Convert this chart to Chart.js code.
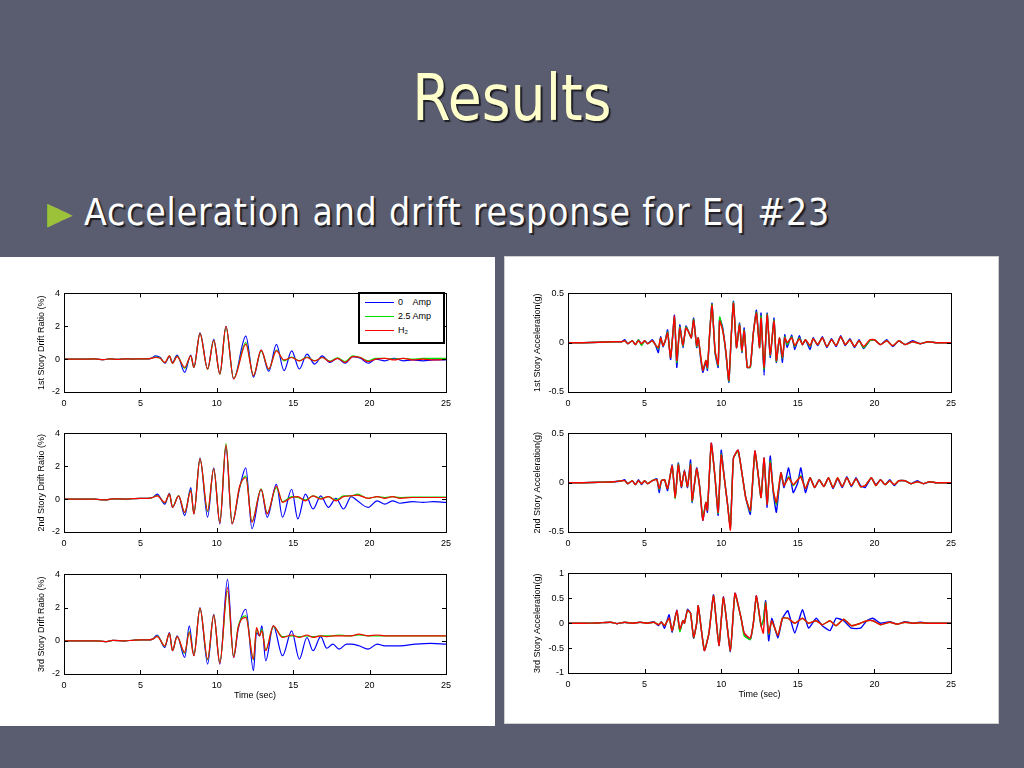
<!DOCTYPE html>
<html>
<head>
<meta charset="utf-8">
<title>Results</title>
<script src="https://cdn.jsdelivr.net/npm/chart.js@4.4.1/dist/chart.umd.min.js"></script>
<style>
  html, body { margin: 0; padding: 0; }
  body {
    width: 1024px; height: 768px; position: relative; overflow: hidden;
    background: #5a5d6f;
    font-family: "DejaVu Sans Condensed", "DejaVu Sans", sans-serif;
  }
  .title {
    position: absolute; left: 0; width: 1024px; top: 62px;
    text-align: center; font-size: 64px; line-height: 72px;
    color: #ffffcc; text-shadow: 2px 2px 1px #1e1f26;
  }
  .title span { display: inline-block; transform: scaleX(0.96); }
  .bullet {
    position: absolute; left: 84px; top: 191px; white-space: nowrap;
    font-size: 37px; line-height: 44px; color: #ffffff; letter-spacing: 0.85px;
    text-shadow: 2px 2px 1px #1e1f26;
  }
  .bullet .mark {
    position: absolute; left: -37px; top: -1px; font-size: 31px; line-height: 44px;
    color: #9cc23a; letter-spacing: 0; text-shadow: none;
    transform-origin: 0 23.5px; transform: scale(1.19, 1.53);
  }
  .panel { position: absolute; background: #ffffff; box-sizing: border-box; }
  canvas { position: absolute; }
  .legend {
    position: absolute; left: 358px; top: 292px; width: 87px; height: 52px;
    box-sizing: border-box; border: 2px solid #000; background: #fff;
    font-family: "Liberation Sans", Arial, sans-serif; font-size: 9px; color: #000;
  }
  .legend .row { position: absolute; left: 5px; height: 14px; line-height: 14px; white-space: pre; }
  .legend .swatch { display: inline-block; width: 29px; height: 1.5px; vertical-align: middle; margin-right: 4px; }
</style>
</head>
<body>
<div class="title"><span>Results</span></div>
<div class="bullet"><span class="mark">&#9658;</span>Acceleration and drift response for Eq #23</div>

<div class="panel" style="left:0px; top:257px; width:495px; height:469px;"></div>
<div class="panel" style="left:504px; top:256px; width:495px; height:468px; border:1px solid #cfcfcf;"></div>

<canvas id="drift1" width="421" height="128" style="left:36px; top:284px;"></canvas>
<canvas id="drift2" width="421" height="128" style="left:36px; top:424px;"></canvas>
<canvas id="drift3" width="421" height="136" style="left:36px; top:565px;"></canvas>
<canvas id="accel1" width="430" height="128" style="left:532px; top:284px;"></canvas>
<canvas id="accel2" width="430" height="128" style="left:532px; top:424px;"></canvas>
<canvas id="accel3" width="430" height="136" style="left:532px; top:564px;"></canvas>
<div class="legend" id="legend"></div>

<script>
// Series names and colours
const seriesLabels = ['0    Amp', '2.5 Amp', 'H\u2082'];
const seriesColors = ['#0000ff', '#00e000', '#ff0000'];

// Tick labels
const timeTicks = [0, 5, 10, 15, 20, 25];
const driftTicks = [-2, 0, 2, 4];
const accelTicks = [-0.5, 0, 0.5];
const accel3Ticks = [-1, -0.5, 0, 0.5, 1];

// 1st story drift ratio (%)
const drift1Time = [
  0, 1, 2, 2.6, 3, 3.5, 4, 4.5, 5, 5.4,
  5.7, 6.0, 6.3, 6.6, 6.9, 7.1, 7.4, 7.9, 8.3, 8.5,
  8.9, 9.4, 9.8, 10.2, 10.6, 11.1, 11.9, 12.4, 12.9, 13.4,
  13.9, 14.4, 14.9, 15.4, 15.9, 16.4, 16.9, 17.4, 17.9, 18.4,
  18.9, 19.4, 19.9, 20.4, 21.0, 21.6, 22.2, 22.8, 23.5, 24.2,
  25];
const drift1Amp0 = [
  0, 0, 0.01, -0.03, 0.02, -0.01, 0.02, 0, 0.02, 0.01,
  0.05, 0.2, 0.1, -0.25, 0.15, -0.2, 0.25, -0.8, 0.25, -0.5,
  1.6, -0.6, 1.2, -0.9, 2.0, -1.2, 1.4, -1.1, 0.55, -0.75,
  0.9, -0.7, 0.5, -0.6, 0.3, -0.3, 0.2, -0.2, 0.05, -0.25,
  0.15, 0.05, -0.25, 0, -0.1, 0.05, -0.1, -0.05, -0.1, -0.05,
  -0.05];
const drift1Amp25 = [
  0, 0, 0.01, -0.03, 0.02, -0.01, 0.02, 0, 0.02, 0.01,
  0.05, 0.12, 0.05, -0.22, 0.2, -0.25, 0.18, -0.55, 0.2, -0.5,
  1.55, -0.62, 1.15, -0.92, 1.95, -1.18, 1.0, -1.0, 0.5, -0.62,
  0.55, -0.1, 0.12, -0.1, 0.12, -0.1, 0.1, -0.12, 0.08, -0.15,
  0.2, 0.1, -0.1, 0.05, 0.05, 0, 0.05, 0, 0.05, 0.05,
  0.05];
const drift1H2 = [
  0, 0, 0.01, -0.03, 0.02, -0.01, 0.02, 0, 0.02, 0.01,
  0.05, 0.1, 0.05, -0.2, 0.2, -0.25, 0.15, -0.5, 0.2, -0.5,
  1.55, -0.6, 1.15, -0.9, 2.0, -1.2, 0.9, -1.0, 0.55, -0.6,
  0.5, -0.05, 0.1, -0.1, 0.1, -0.1, 0.1, -0.15, 0.05, -0.2,
  0.15, 0.1, -0.15, 0, 0.05, -0.05, 0.05, -0.05, 0, -0.05,
  -0.02];

// 2nd story drift ratio (%)
const drift2Time = [
  0, 1, 2, 2.7, 3.2, 4, 4.5, 5, 5.5,
  5.8, 6.1, 6.6, 6.9, 7.1, 7.5, 7.9, 8.3, 8.5, 8.9,
  9.4, 9.8, 10.2, 10.6, 11.0, 11.5, 11.9, 12.3, 12.9, 13.3,
  13.9, 14.3, 14.9, 15.3, 15.8, 16.3, 16.8, 17.3, 17.8, 18.3,
  18.8, 19.2, 19.9, 20.5, 21.0, 21.5, 22.0, 22.8, 23.5, 24.2, 25];
const drift2Amp0 = [
  0, 0, 0, -0.05, 0.02, 0, 0.03, 0.05, 0.05,
  0.1, 0.3, -0.3, 0.35, -0.5, 0.2, -1.0, 0.7, -0.9, 2.5,
  -1.1, 1.9, -1.5, 3.2, -1.5, 0.7, 1.9, -1.8, 0.6, -1.1,
  0.9, -1.1, 0.6, -1.2, 0.3, -0.6, 0.2, -0.5, 0.05, -0.6,
  0.15, -0.1, -0.5, -0.1, -0.3, -0.1, -0.25, -0.15, -0.2, -0.15, -0.2];
const drift2Amp25 = [
  0, 0, 0, -0.05, 0.02, 0, 0.03, 0.05, 0.05,
  0.1, 0.22, -0.22, 0.3, -0.48, 0.22, -0.82, 0.55, -0.88, 2.45,
  -0.75, 1.85, -1.4, 3.4, -1.45, 0.75, 1.4, -1.35, 0.62, -0.85,
  0.7, -0.15, 0.15, 0.1, -0.05, 0.2, 0.05, 0.15, -0.05, 0.2,
  0.2, 0.3, 0.05, 0.15, 0.1, 0.15, 0.1, 0.12, 0.12, 0.12, 0.12];
const drift2H2 = [
  0, 0, 0, -0.05, 0.02, 0, 0.03, 0.05, 0.05,
  0.1, 0.2, -0.2, 0.3, -0.5, 0.2, -0.8, 0.5, -0.9, 2.45,
  -0.7, 1.85, -1.45, 3.3, -1.5, 0.8, 1.3, -1.4, 0.6, -0.9,
  0.8, -0.2, 0.1, 0.15, -0.1, 0.2, 0, 0.15, -0.1, 0.15,
  0.2, 0.25, 0.05, 0.15, 0.05, 0.15, 0.05, 0.1, 0.1, 0.1, 0.1];

// 3rd story drift ratio (%)
const drift3Time = [
  0, 1, 2, 2.7, 3.2, 4, 4.5, 5, 5.5,
  5.8, 6.1, 6.6, 6.9, 7.1, 7.4, 7.9, 8.2, 8.5, 8.9,
  9.4, 9.8, 10.2, 10.7, 11.1, 11.4, 11.9, 12.4, 12.6, 12.8,
  12.95, 13.2, 13.7, 14.3, 14.9, 15.4, 15.9, 16.3, 16.8, 17.2,
  17.6, 18.0, 18.5, 18.8, 19.3, 19.9, 20.5, 21.0, 22.0, 23.0, 24.0, 25];
const drift3Amp0 = [
  0, 0, 0, -0.05, 0.02, 0, 0.03, 0.05, 0.05,
  0.1, 0.35, -0.4, 0.5, -0.6, 0.3, -1.0, 0.9, -0.9, 2.0,
  -1.4, 1.6, -1.4, 3.7, -1.0, 0.7, 1.9, -1.8, 0.5, 0.3,
  0.9, -1.2, 0.9, -0.9, 0.6, -1.1, 0.2, -0.6, 0.25, -0.45,
  -0.2, -0.5, -0.2, -0.2, -0.3, -0.5, -0.2, -0.3, -0.3, -0.2, -0.15, -0.2];
const drift3Amp25 = [
  0, 0, 0, -0.05, 0.02, 0, 0.03, 0.05, 0.05,
  0.1, 0.28, -0.32, 0.45, -0.58, 0.25, -0.75, 0.55, -0.85, 1.95,
  -1.15, 1.55, -1.3, 3.0, -0.95, 0.85, 1.5, -1.15, 0.7, 0.35,
  0.7, -0.55, 0.85, 0.25, 0.3, 0.25, 0.3, 0.25, 0.3, 0.3,
  0.3, 0.35, 0.3, 0.3, 0.35, 0.3, 0.3, 0.3, 0.3, 0.3, 0.3, 0.3];
const drift3H2 = [
  0, 0, 0, -0.05, 0.02, 0, 0.03, 0.05, 0.05,
  0.1, 0.25, -0.3, 0.45, -0.6, 0.25, -0.7, 0.5, -0.9, 1.95,
  -1.1, 1.55, -1.35, 3.2, -1.0, 0.8, 1.4, -1.1, 0.8, 0.3,
  0.6, -0.6, 0.9, 0.2, 0.35, 0.2, 0.35, 0.2, 0.3, 0.25,
  0.3, 0.3, 0.3, 0.3, 0.4, 0.3, 0.35, 0.3, 0.3, 0.3, 0.3, 0.3];

// 1st story acceleration (g)
const accel1Time = [
  0, 1, 2, 3, 3.5, 3.7, 3.9, 4.2, 4.4, 4.6, 4.8, 5.0, 5.2, 5.5, 5.7,
  5.9, 6.05, 6.2, 6.35, 6.5, 6.7, 6.95, 7.1, 7.3, 7.5, 7.7, 7.9, 8.05, 8.2, 8.4,
  8.5, 8.65, 8.8, 9.0, 9.1, 9.25, 9.4, 9.6, 9.8, 9.9, 10.1, 10.3, 10.5, 10.65, 10.8,
  11.0, 11.2, 11.35, 11.5, 11.7, 11.9, 12.1, 12.3, 12.5, 12.6, 12.8, 13.0, 13.2, 13.45, 13.6,
  13.8, 14.0, 14.15, 14.3, 14.6, 14.8, 15.1, 15.3, 15.5, 15.8, 16.0, 16.3, 16.6, 16.9, 17.2,
  17.5, 17.8, 18.1, 18.4, 18.7, 19.0, 19.3, 19.7, 20.0, 20.4, 20.8, 21.2, 21.6, 22.0, 22.5, 23.0, 23.5, 24, 25];
const accel1Amp0 = [
  0, 0, 0.005, 0.01, 0.01, 0.03, -0.01, 0.02, -0.02, 0.03, -0.02, 0.02, -0.01, 0.03, -0.02,
  -0.1, 0.06, -0.04, 0.02, 0.13, -0.17, 0.28, -0.25, 0.18, -0.05, 0.17, 0.1, 0.05, 0.25, -0.05,
  0.05, -0.15, -0.3, -0.2, -0.28, 0.1, 0.4, -0.1, -0.25, 0.25, 0.15, -0.1, -0.4, 0.05, 0.42,
  -0.05, 0.2, -0.1, 0.15, -0.25, -0.25, 0.1, 0.33, -0.05, 0.3, -0.33, 0.3, -0.15, 0.25, -0.2,
  0.05, -0.2, 0.08, -0.05, 0.08, -0.07, 0.07, -0.02, 0.03, -0.07, 0.05, -0.03, 0.06, -0.05, 0.04,
  -0.04, 0.07, -0.03, 0.04, -0.05, 0.03, -0.06, 0.02, 0.03, -0.02, 0.03, -0.04, 0.02, -0.02, 0.02, -0.01, 0.01, 0, 0];
const accel1Amp25 = [
  0, 0, 0.005, 0.01, 0.01, 0.02, -0.01, 0.02, -0.02, 0.03, -0.03, 0.02, -0.01, 0.02, -0.02,
  -0.06, 0.05, -0.03, 0.02, 0.11, -0.15, 0.26, -0.2, 0.16, -0.04, 0.16, 0.1, 0.05, 0.24, -0.04,
  0.05, -0.13, -0.28, -0.18, -0.26, 0.1, 0.39, -0.09, -0.23, 0.26, 0.13, -0.09, -0.39, 0.05, 0.41,
  -0.05, 0.19, -0.09, 0.13, -0.25, -0.25, 0.1, 0.31, -0.05, 0.27, -0.27, 0.29, -0.13, 0.23, -0.19,
  0.05, -0.16, 0.06, -0.02, 0.06, -0.04, 0.05, -0.02, 0.03, -0.04, 0.04, -0.02, 0.05, -0.04, 0.03,
  -0.03, 0.06, -0.02, 0.03, -0.04, 0.02, -0.05, 0.02, 0.03, -0.02, 0.02, -0.03, 0.02, -0.02, 0.01, -0.01, 0.01, 0, 0];
const accel1H2 = [
  0, 0, 0.005, 0.01, 0.01, 0.02, -0.01, 0.02, -0.02, 0.02, -0.01, 0.02, -0.01, 0.02, -0.02,
  -0.05, 0.05, -0.03, 0.02, 0.1, -0.15, 0.27, -0.18, 0.15, -0.03, 0.15, 0.1, 0.05, 0.23, -0.03,
  0.05, -0.12, -0.28, -0.18, -0.25, 0.1, 0.38, -0.08, -0.22, 0.22, 0.12, -0.08, -0.38, 0.05, 0.4,
  -0.05, 0.18, -0.08, 0.12, -0.25, -0.24, 0.1, 0.3, -0.05, 0.25, -0.25, 0.28, -0.12, 0.22, -0.18,
  0.05, -0.15, 0.05, 0, 0.05, -0.03, 0.04, -0.02, 0.03, -0.03, 0.04, -0.02, 0.05, -0.04, 0.03,
  -0.03, 0.06, -0.02, 0.03, -0.04, 0.02, -0.04, 0.03, 0.03, -0.02, 0.02, -0.03, 0.02, -0.02, 0.01, -0.01, 0.01, 0, 0];

// 2nd story acceleration (g)
const accel2Time = [
  0, 1, 2, 3, 3.5, 3.7, 3.9, 4.2, 4.4, 4.6, 4.8, 5.0, 5.2, 5.5, 5.8,
  5.95, 6.1, 6.3, 6.5, 6.8, 7.0, 7.2, 7.4, 7.6, 7.8, 8.0, 8.1, 8.4, 8.6, 8.8,
  9.0, 9.1, 9.35, 9.6, 9.8, 10.0, 10.2, 10.4, 10.6, 10.8, 11.1, 11.4, 11.6, 11.9, 12.2,
  12.4, 12.6, 12.8, 13.0, 13.2, 13.4, 13.6, 13.9, 14.1, 14.4, 14.7, 15.0, 15.2, 15.5, 15.8,
  16.1, 16.4, 16.7, 17.0, 17.3, 17.6, 17.9, 18.2, 18.5, 18.8, 19.1, 19.4, 19.8, 20.1, 20.4,
  20.7, 21.0, 21.3, 21.6, 22.0, 22.4, 22.8, 23.2, 23.6, 24.0, 25];
const accel2Amp0 = [
  0, 0, 0.005, 0.01, 0.02, 0.03, -0.01, 0.02, -0.02, 0.03, -0.02, 0.02, -0.01, 0.02, 0.04,
  -0.1, 0.02, 0.03, -0.08, 0.18, -0.15, 0.2, -0.05, 0.13, -0.05, 0.23, -0.2, 0.15, -0.05, -0.38,
  -0.2, -0.3, 0.4, 0.05, -0.33, 0.33, 0.05, -0.2, -0.45, 0.25, 0.33, 0.05, -0.15, -0.32, 0.32,
  0.1, -0.15, 0.25, -0.25, 0.27, -0.1, -0.3, 0.1, -0.05, 0.15, -0.1, 0, 0.15, -0.1, 0.05,
  -0.05, 0.03, -0.04, 0.05, -0.06, 0.04, -0.05, 0.06, -0.04, 0.05, -0.03, -0.05, 0.05, -0.02, 0.03,
  -0.02, 0.03, -0.03, 0.02, 0.02, -0.01, 0.02, -0.01, 0.01, 0, 0];
const accel2Amp25 = [
  0, 0, 0.005, 0.01, 0.02, 0.02, -0.01, 0.02, -0.02, 0.02, -0.01, 0.02, -0.01, 0.02, 0.03,
  -0.07, 0.02, 0.03, -0.06, 0.17, -0.16, 0.19, -0.04, 0.12, -0.04, 0.19, -0.19, 0.14, -0.05, -0.36,
  -0.2, -0.28, 0.38, 0.05, -0.31, 0.29, 0.05, -0.2, -0.45, 0.25, 0.32, 0.05, -0.15, -0.29, 0.31,
  0.1, -0.15, 0.24, -0.22, 0.22, -0.08, -0.22, 0.1, -0.03, 0.06, -0.03, 0.03, 0.07, -0.06, 0.05,
  -0.05, 0.03, -0.04, 0.05, -0.05, 0.05, -0.04, 0.05, -0.03, 0.04, -0.04, -0.03, 0.05, -0.03, 0.03,
  -0.02, 0.02, -0.02, 0.02, 0.02, -0.01, 0.01, -0.01, 0.01, 0, 0];
const accel2H2 = [
  0, 0, 0.005, 0.01, 0.02, 0.02, -0.01, 0.02, -0.02, 0.02, -0.01, 0.02, -0.01, 0.02, 0.03,
  -0.06, 0.02, 0.03, -0.06, 0.17, -0.15, 0.18, -0.04, 0.12, -0.04, 0.18, -0.18, 0.14, -0.05, -0.38,
  -0.2, -0.28, 0.4, 0.05, -0.3, 0.28, 0.05, -0.2, -0.48, 0.25, 0.33, 0.05, -0.15, -0.28, 0.32,
  0.1, -0.15, 0.25, -0.22, 0.2, -0.08, -0.2, 0.1, -0.03, 0.05, -0.02, 0.03, 0.06, -0.06, 0.05,
  -0.05, 0.03, -0.04, 0.05, -0.05, 0.05, -0.04, 0.05, -0.03, 0.04, -0.04, -0.03, 0.05, -0.03, 0.03,
  -0.02, 0.02, -0.02, 0.02, 0.02, -0.01, 0.01, -0.01, 0.01, 0, 0];

// 3rd story acceleration (g)
const accel3Time = [
  0, 1, 2, 2.8, 3.2, 3.7, 4.2, 4.7, 5.2, 5.6, 5.9, 6.1, 6.3, 6.6, 6.8,
  7.1, 7.3, 7.5, 7.6, 7.8, 8.0, 8.2, 8.4, 8.5, 8.9, 9.2, 9.5, 9.85, 10.15, 10.6,
  10.9, 11.3, 11.5, 11.9, 12.1, 12.3, 12.6, 12.75, 12.9, 13.1, 13.3, 13.7, 14.0, 14.35, 14.8,
  15.3, 15.7, 16.2, 16.6, 17.1, 17.5, 18.0, 18.5, 19.1, 19.5, 19.9, 20.4, 21.0, 21.5, 22.0,
  22.5, 23.0, 23.5, 24.0, 25];
const accel3Amp0 = [
  0, 0, 0.005, 0.02, -0.01, 0.02, 0, 0.02, 0, 0.03, -0.05, 0.03, -0.1, 0.17, -0.18,
  0.26, -0.15, 0.05, 0, 0.28, 0.2, -0.3, 0, 0.35, -0.55, -0.2, 0.57, -0.45, 0.53, -0.57,
  0.6, 0.1, -0.2, -0.33, 0, 0.55, -0.05, 0.05, 0.45, -0.35, 0.1, -0.3, 0.1, 0.25, -0.2,
  0.27, -0.1, 0.1, -0.05, -0.15, 0.1, 0.05, -0.1, -0.1, 0.05, 0.1, 0, 0.03, -0.02, 0.03,
  0, 0.02, 0, 0, 0];
const accel3Amp25 = [
  0, 0, 0.005, 0.02, -0.01, 0.02, 0, 0.02, 0, 0.02, -0.03, 0.02, -0.05, 0.1, -0.15,
  0.24, -0.17, 0.05, 0, 0.26, 0.2, -0.29, 0, 0.34, -0.54, -0.2, 0.55, -0.44, 0.51, -0.55,
  0.58, 0.1, -0.25, -0.33, 0, 0.53, -0.05, 0.05, 0.42, -0.22, 0.05, -0.25, 0.1, 0.1, 0,
  0.1, 0, 0.05, -0.03, 0.05, -0.05, 0.08, -0.05, 0, 0.05, 0.05, -0.03, 0.02, -0.02, 0.02,
  0, 0.01, 0, 0, 0];
const accel3H2 = [
  0, 0, 0.005, 0.02, -0.01, 0.02, 0, 0.02, 0, 0.02, -0.03, 0.02, -0.05, 0.1, -0.15,
  0.25, -0.12, 0.05, 0, 0.26, 0.2, -0.28, 0, 0.35, -0.55, -0.2, 0.55, -0.45, 0.52, -0.55,
  0.6, 0.1, -0.2, -0.3, 0, 0.55, -0.05, -0.2, 0.42, -0.2, 0.05, -0.25, 0.1, 0.1, 0,
  0.1, 0, 0.05, -0.03, 0.05, -0.05, 0.08, -0.05, 0, 0.05, 0.05, -0.03, 0.02, -0.02, 0.02,
  0, 0.01, 0, 0, 0];

// Draws the closed MATLAB-style box with inward ticks on all four sides
const matlabBox = {
  id: 'matlabBox',
  afterDraw(chart) {
    const { ctx, chartArea: a, scales: { x, y } } = chart;
    ctx.save();
    ctx.strokeStyle = '#000';
    ctx.lineWidth = 1;
    ctx.strokeRect(Math.round(a.left) + 0.5, Math.round(a.top) + 0.5,
      Math.round(a.right - a.left), Math.round(a.bottom - a.top));
    ctx.beginPath();
    x.ticks.forEach(t => {
      const px = Math.round(x.getPixelForValue(t.value)) + 0.5;
      ctx.moveTo(px, a.bottom); ctx.lineTo(px, a.bottom - 4);
      ctx.moveTo(px, a.top); ctx.lineTo(px, a.top + 4);
    });
    y.ticks.forEach(t => {
      const py = Math.round(y.getPixelForValue(t.value)) + 0.5;
      ctx.moveTo(a.left, py); ctx.lineTo(a.left + 4, py);
      ctx.moveTo(a.right, py); ctx.lineTo(a.right - 4, py);
    });
    ctx.stroke();
    ctx.restore();
  }
};

const tickFont = { family: '"Liberation Sans", Arial, sans-serif', size: 9 };

function makeChart(id, time, series, yTicks, yTitle, yAxisWidth, xAxisHeight, showXTitle, smooth) {
  const datasets = series.map((values, i) => ({
    label: seriesLabels[i],
    data: values.map((v, k) => ({ x: time[k], y: v })),
    borderColor: seriesColors[i],
    borderWidth: smooth ? 1.2 : 1.4,
    pointRadius: 0,
    fill: false,
    order: series.length - i, // H2 drawn last, on top
    tension: smooth ? 0 : 0.15,
    cubicInterpolationMode: smooth ? 'monotone' : 'default'
  }));
  return new Chart(document.getElementById(id), {
    type: 'line',
    data: { datasets: datasets },
    plugins: [matlabBox],
    options: {
      responsive: false,
      animation: false,
      layout: { padding: { top: 8, right: 10, bottom: 0, left: 0 } },
      plugins: { legend: { display: false }, tooltip: { enabled: false } },
      scales: {
        x: {
          type: 'linear', min: 0, max: 25,
          afterBuildTicks: s => { s.ticks = timeTicks.map(v => ({ value: v })); },
          afterFit: s => { s.height = xAxisHeight; },
          grid: { display: false, drawTicks: false },
          border: { display: false },
          ticks: { font: tickFont, color: '#000', padding: 6, maxRotation: 0, autoSkip: false,
                   callback: v => String(v) },
          title: { display: showXTitle, text: 'Time (sec)', font: tickFont, color: '#000', padding: 0 }
        },
        y: {
          type: 'linear', min: yTicks[0], max: yTicks[yTicks.length - 1],
          afterBuildTicks: s => { s.ticks = yTicks.map(v => ({ value: v })); },
          afterFit: s => { s.width = yAxisWidth; },
          grid: { display: false, drawTicks: false },
          border: { display: false },
          ticks: { font: tickFont, color: '#000', padding: 4, autoSkip: false,
                   callback: v => String(v) },
          title: { display: true, text: yTitle, font: tickFont, color: '#000', padding: 0 }
        }
      }
    }
  });
}

const drift1Chart = makeChart('drift1', drift1Time, [drift1Amp0, drift1Amp25, drift1H2], driftTicks, '1st Story Drift Ratio (%)', 28, 20, false, true);
makeChart('drift2', drift2Time, [drift2Amp0, drift2Amp25, drift2H2], driftTicks, '2nd Story Drift Ratio (%)', 28, 20, false, true);
makeChart('drift3', drift3Time, [drift3Amp0, drift3Amp25, drift3H2], driftTicks, '3rd Story Drift Ratio (%)', 28, 27, true, true);
makeChart('accel1', accel1Time, [accel1Amp0, accel1Amp25, accel1H2], accelTicks, '1st Story Acceleration(g)', 36, 20, false, false);
makeChart('accel2', accel2Time, [accel2Amp0, accel2Amp25, accel2H2], accelTicks, '2nd Story Acceleration(g)', 36, 20, false, false);
makeChart('accel3', accel3Time, [accel3Amp0, accel3Amp25, accel3H2], accel3Ticks, '3rd Story Acceleration(g)', 36, 27, true, false);

// Legend of the first drift plot, built from its datasets
const legendBox = document.getElementById('legend');
drift1Chart.data.datasets.forEach((ds, i) => {
  const row = document.createElement('div');
  row.className = 'row';
  row.style.top = (1 + i * 14) + 'px';
  const sw = document.createElement('span');
  sw.className = 'swatch';
  sw.style.backgroundColor = seriesColors[i];
  row.appendChild(sw);
  row.appendChild(document.createTextNode(ds.label));
  legendBox.appendChild(row);
});
</script>
</body>
</html>
